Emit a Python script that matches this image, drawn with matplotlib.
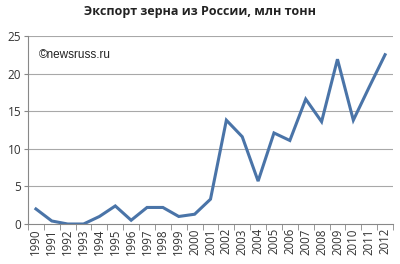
import numpy as np
import matplotlib.pyplot as plt

years = [str(y) for y in range(1990, 2013)]
export = [2.0, 0.4, 0.0, 0.0, 1.0, 2.4, 0.5, 2.2, 2.2, 1.0, 1.3, 3.3,
          13.8, 11.6, 5.7, 12.1, 11.1, 16.6, 13.6, 21.9, 13.8, 18.2, 22.5]
yticks = [0, 5, 10, 15, 20, 25]

plt.rcParams['font.family'] = ['Open Sans', 'DejaVu Sans']

fig = plt.figure(figsize=(4.0, 2.64), dpi=100)
ax = fig.add_axes([0.07, 0.1515, 0.9125, 0.7125])

x = np.arange(len(years))
ax.plot(x, export, color='#4a74a8', linewidth=2.2, solid_joinstyle='miter')

ax.set_xlim(-0.5, len(years) - 0.5)
ax.set_ylim(0, 25)
ax.set_yticks(yticks)
ax.set_yticklabels([str(t) for t in yticks], fontsize=8.5, color='#333333')
for t in yticks[1:]:
    ax.axhline(t, color='#a8a8a8', linewidth=0.8, zorder=0)

ax.set_xticks(x)
ax.set_xticklabels(years, rotation=90, fontsize=8.3, color='#333333')
ax.set_xticks(np.arange(-0.5, len(years)), minor=True)
ax.tick_params(axis='x', which='major', length=0, pad=3)
ax.tick_params(axis='x', which='minor', length=4, color='#888888')
ax.tick_params(axis='y', length=3, color='#888888', pad=2)

for s in ['top', 'right']:
    ax.spines[s].set_visible(False)
ax.spines['left'].set_color('#888888')
ax.spines['bottom'].set_color('#888888')

ax.text(0.03, 0.88, '©newsruss.ru', transform=ax.transAxes, fontsize=8.5,
        color='#222222', family=['Liberation Sans', 'DejaVu Sans'])
fig.text(0.5, 0.955, 'Экспорт зерна из России, млн тонн', ha='center', va='center',
         fontsize=9, fontweight='bold', color='#222222')

fig.savefig('out.png', dpi=100)
